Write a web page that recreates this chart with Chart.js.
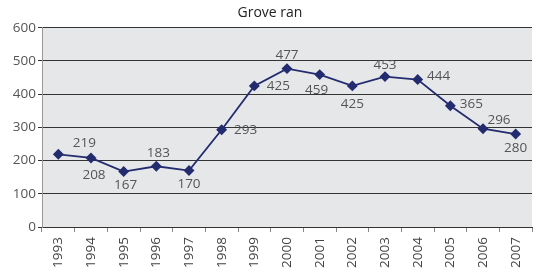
<!DOCTYPE html>
<html><head><meta charset="utf-8">
<script src="https://cdn.jsdelivr.net/npm/chart.js@4/dist/chart.umd.min.js"></script>
<style>html,body{margin:0;padding:0;background:#fff}#wrap{width:538px;height:269px}</style>
</head><body><div id="wrap"><canvas id="c"></canvas></div>
<script>
const titleText = "Grove ran";
const years = ["1993","1994","1995","1996","1997","1998","1999","2000","2001","2002","2003","2004","2005","2006","2007"];
const values = [219,208,167,183,170,293,425,477,459,425,453,444,365,296,280];
const yTicks = [0,100,200,300,400,500,600];
// label placement offsets (dx, dy) in px relative to point
const labelOffsets = [[26,-11],[3,17],[2,14],[2,-13],[0,14],[24,0],[24,0],[0,-13],[-3,16],[0,18],[0,-11],[21,-3],[21,-2],[16,-9],[0,14]];

const FONT = "'Open Sans', sans-serif";
const plotBg = {
  id:'plotBg',
  beforeDraw(chart){
    const {ctx, chartArea:a} = chart;
    ctx.save(); ctx.fillStyle='#e6e7e9';
    ctx.fillRect(a.left,a.top,a.right-a.left,a.bottom-a.top); ctx.restore();
  }
};
const dataLabels = {
  id:'dataLabels',
  afterDatasetsDraw(chart){
    const {ctx} = chart;
    const meta = chart.getDatasetMeta(0);
    ctx.save();
    ctx.font = "13.5px " + FONT; ctx.fillStyle='#555';
    ctx.textAlign='center'; ctx.textBaseline='middle';
    meta.data.forEach((pt,i)=>{
      const o = labelOffsets[i];
      ctx.fillText(String(values[i]), pt.x+o[0], pt.y+o[1]);
    });
    ctx.restore();
  }
};
new Chart(document.getElementById('c'),{
  type:'line',
  data:{labels:years,datasets:[{data:values,borderColor:'#242c70',backgroundColor:'#242c70',borderWidth:1.8,pointStyle:'rectRot',pointRadius:4.2,pointHoverRadius:4.2,tension:0}]},
  options:{
    responsive:true,maintainAspectRatio:false,animation:false,
    layout:{padding:{top:0,right:-2,left:0,bottom:0}},
    plugins:{legend:{display:false},tooltip:{enabled:false},
      title:{display:true,text:titleText,color:'#222',font:{family:FONT,size:14,weight:'normal'},padding:{top:5,bottom:6}}},
    scales:{
      x:{offset:true,
        grid:{offset:true,drawOnChartArea:false,drawTicks:true,tickLength:5,color:'#888'},
        border:{color:'#333',width:1},
        ticks:{color:'#444',font:{family:FONT,size:13.5},maxRotation:90,minRotation:90,padding:5,autoSkip:false},
        afterFit(s){s.height=42;}
      },
      y:{min:0,max:600,
        afterBuildTicks(s){s.ticks=yTicks.map(v=>({value:v}));},
        grid:{color:'#333',tickLength:4,lineWidth:1},
        border:{color:'#999',width:1},
        ticks:{color:'#555',font:{family:FONT,size:13.5},padding:2},
        afterFit(s){s.width=42;}
      }
    }
  },
  plugins:[plotBg,dataLabels]
});
</script></body></html>
